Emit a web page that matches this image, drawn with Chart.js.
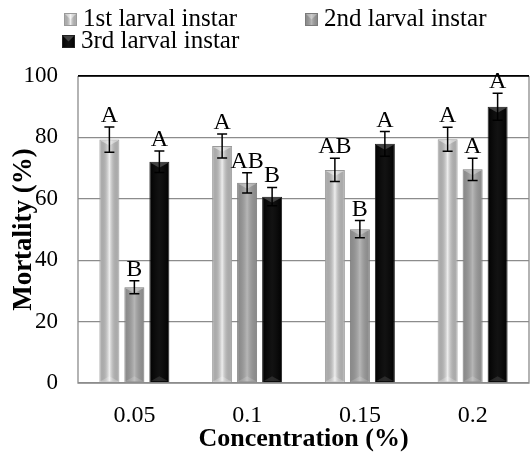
<!DOCTYPE html>
<html>
<head>
<meta charset="utf-8">
<script src="https://cdn.jsdelivr.net/npm/chart.js@4.4.1/dist/chart.umd.min.js"></script>
<style>
  html, body { margin: 0; padding: 0; background: #fff; }
  #wrap { width: 532px; height: 460px; }
</style>
</head>
<body>
<div id="wrap"><canvas id="chart"></canvas></div>
<script>
// dados
const concentracoes = ['0.05', '0.1', '0.15', '0.2'];
const seriesNomes = ['1st larval instar', '2nd larval instar', '3rd larval instar'];
const instar1 = [79.3, 77.2, 69.4, 79.4];
const instar2 = [31.2, 65.2, 50.1, 69.6];
const instar3 = [72.1, 60.7, 77.9, 90.0];
const erro1 = [4.1, 3.9, 3.8, 3.9];
const erro2 = [2.1, 3.3, 2.8, 3.6];
const erro3 = [3.5, 3.0, 4.0, 4.4];
const letras1 = ['A', 'A', 'AB', 'A'];
const letras2 = ['B', 'AB', 'B', 'A'];
const letras3 = ['A', 'B', 'A', 'A'];
const yTicks = [0, 20, 40, 60, 80, 100];

const FONTE = '"Liberation Serif", "Times New Roman", serif';
const erros = [erro1, erro2, erro3];
const letras = [letras1, letras2, letras3];

// estilo de cada série (cor base, brilho central, chanfro)
const estilos = [
  { base: '#cdcdcd', borda: '#9a9a9a', brilho: 'rgba(255,255,255,0.65)', chanfro: 'rgba(255,255,255,0.45)' },
  { base: '#9a9a9a', borda: '#7a7a7a', brilho: 'rgba(255,255,255,0.28)', chanfro: 'rgba(255,255,255,0.3)' },
  { base: '#000000', borda: '#222222', brilho: 'rgba(255,255,255,0.07)', chanfro: 'rgba(90,90,90,0.7)' }
];

// desenha o brilho e o chanfro das barras (efeito 3D do Excel)
const barras3d = {
  id: 'barras3d',
  afterDatasetsDraw(chart) {
    const c = chart.ctx;
    chart.data.datasets.forEach((ds, di) => {
      const st = estilos[di];
      chart.getDatasetMeta(di).data.forEach(bar => {
        const w = bar.width, left = bar.x - w / 2, right = bar.x + w / 2;
        const top = bar.y, bottom = bar.base;
        c.save();
        const g = c.createLinearGradient(left, 0, right, 0);
        g.addColorStop(0, 'rgba(0,0,0,0.1)');
        g.addColorStop(0.5, st.brilho);
        g.addColorStop(1, 'rgba(0,0,0,0.1)');
        c.fillStyle = g;
        c.fillRect(left + 1, top + 1, w - 2, bottom - top - 2);
        const h = w * 0.3;
        c.fillStyle = st.chanfro;
        c.beginPath();
        c.moveTo(left + 1, top + 1); c.lineTo(right - 1, top + 1); c.lineTo(bar.x, top + h);
        c.closePath(); c.fill();
        c.globalAlpha = 0.5;
        c.beginPath();
        c.moveTo(left + 1, bottom - 1); c.lineTo(right - 1, bottom - 1); c.lineTo(bar.x, bottom - h);
        c.closePath(); c.fill();
        c.restore();
      });
    });
  }
};

// barras de erro e letras de significância
const errosLetras = {
  id: 'errosLetras',
  afterDatasetsDraw(chart) {
    const c = chart.ctx, y = chart.scales.y;
    c.save();
    c.strokeStyle = '#000';
    c.lineWidth = 1.5;
    c.fillStyle = '#000';
    c.font = '24px ' + FONTE;
    c.textAlign = 'center';
    c.textBaseline = 'alphabetic';
    chart.data.datasets.forEach((ds, di) => {
      chart.getDatasetMeta(di).data.forEach((bar, i) => {
        const v = ds.data[i], e = erros[di][i];
        const yTop = y.getPixelForValue(v + e), yBot = y.getPixelForValue(v - e);
        c.beginPath();
        c.moveTo(bar.x, yTop); c.lineTo(bar.x, yBot);
        c.moveTo(bar.x - 5, yTop); c.lineTo(bar.x + 5, yTop);
        c.moveTo(bar.x - 5, yBot); c.lineTo(bar.x + 5, yBot);
        c.stroke();
        c.fillText(letras[di][i], bar.x, yTop - 5);
      });
    });
    c.restore();
  }
};

// moldura da área do gráfico
const moldura = {
  id: 'moldura',
  beforeDatasetsDraw(chart) {
    const { left, right, top, bottom } = chart.chartArea;
    const c = chart.ctx;
    c.save();
    c.lineWidth = 1.3;
    c.strokeStyle = '#8c8c8c';
    c.beginPath();
    c.moveTo(left, top); c.lineTo(left, bottom); c.lineTo(right, bottom); c.lineTo(right, top);
    c.stroke();
    c.strokeStyle = '#000';
    c.beginPath();
    c.moveTo(left, top); c.lineTo(right, top);
    c.stroke();
    c.restore();
  }
};

// legenda alinhada à esquerda em duas linhas, como no original
const legenda = {
  id: 'legenda',
  afterDraw(chart) {
    const c = chart.ctx;
    const posicoes = [[64, 26], [305, 26], [62, 48]];
    c.save();
    c.font = '25px ' + FONTE;
    c.fillStyle = '#000';
    c.textBaseline = 'alphabetic';
    chart.data.datasets.forEach((ds, di) => {
      const [x, yb] = posicoes[di];
      const st = estilos[di];
      const s = 13, top = yb - s;
      c.fillStyle = st.base;
      c.fillRect(x, top, s, s);
      const g = c.createLinearGradient(x, 0, x + s, 0);
      g.addColorStop(0, 'rgba(0,0,0,0.1)');
      g.addColorStop(0.5, st.brilho);
      g.addColorStop(1, 'rgba(0,0,0,0.1)');
      c.fillStyle = g;
      c.fillRect(x, top, s, s);
      c.fillStyle = st.chanfro;
      c.beginPath();
      c.moveTo(x, top); c.lineTo(x + s, top); c.lineTo(x + s / 2, top + s / 2); c.closePath(); c.fill();
      c.strokeStyle = st.borda;
      c.lineWidth = 1;
      c.strokeRect(x + 0.5, top + 0.5, s - 1, s - 1);
      c.fillStyle = '#000';
      c.fillText(ds.label, x + s + 6, yb);
    });
    c.restore();
  }
};

const datasets = [instar1, instar2, instar3].map((d, i) => ({
  label: seriesNomes[i],
  data: d,
  backgroundColor: estilos[i].base,
  borderColor: estilos[i].borda,
  borderWidth: 1,
  categoryPercentage: 0.665,
  barPercentage: 0.8
}));

new Chart(document.getElementById('chart'), {
  type: 'bar',
  data: { labels: concentracoes, datasets: datasets },
  options: {
    responsive: true,
    maintainAspectRatio: false,
    animation: false,
    layout: { padding: { top: 76, right: 3, left: 0, bottom: 0 } },
    plugins: {
      legend: { display: false },
      tooltip: { enabled: false }
    },
    scales: {
      x: {
        grid: { display: false },
        border: { display: false },
        ticks: { color: '#000', font: { family: FONTE, size: 24 }, padding: 10 },
        title: {
          display: true, text: 'Concentration (%)', color: '#000',
          font: { family: FONTE, size: 26, weight: 'bold' }, padding: { top: 0, bottom: 5 }
        },
        afterFit(scale) { scale.height = 77; }
      },
      y: {
        min: 0, max: 100,
        afterBuildTicks(scale) { scale.ticks = yTicks.map(v => ({ value: v })); },
        grid: {
          color: ctx => ctx.tick && ctx.tick.value === 100 ? '#000' : '#8c8c8c',
          lineWidth: 1.3,
          drawTicks: false
        },
        border: { display: false },
        ticks: { color: '#000', font: { family: FONTE, size: 23 }, padding: 20 },
        title: {
          display: true, text: 'Mortality (%)', color: '#000',
          font: { family: FONTE, size: 27, weight: 'bold' }, padding: { top: 8, bottom: 0 }
        },
        afterFit(scale) { scale.width = 78; }
      }
    }
  },
  plugins: [moldura, barras3d, errosLetras, legenda]
});
</script>
</body>
</html>
